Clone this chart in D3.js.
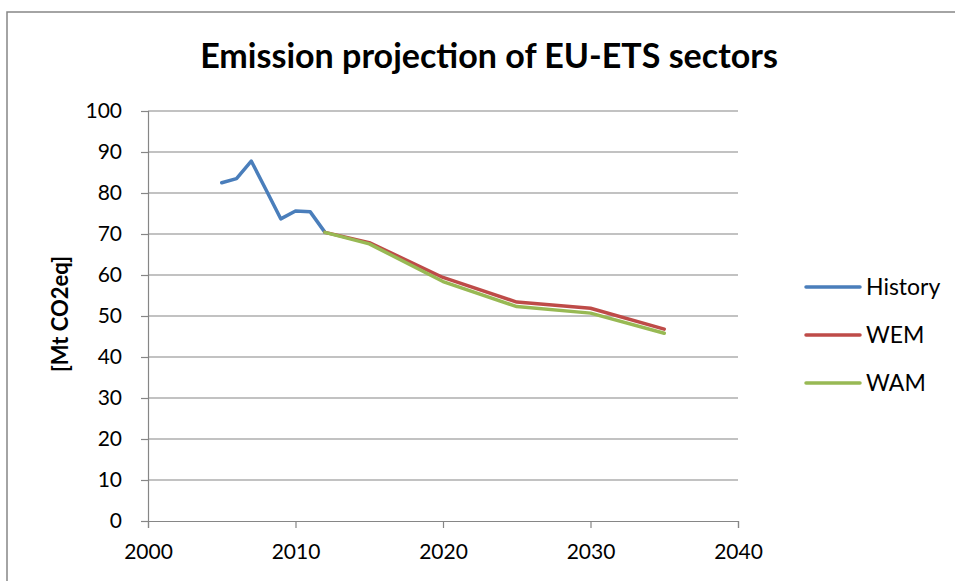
<!DOCTYPE html>
<html>
<head>
<meta charset="utf-8">
<script src="https://cdn.jsdelivr.net/npm/d3@7"></script>
<style>
  html, body { margin: 0; padding: 0; background: #fff; }
  svg { display: block; font-family: Lato, "Open Sans", sans-serif; }
</style>
</head>
<body>
<svg id="chart" width="955" height="581"></svg>
<script>
// Emission data, Mt CO2eq
const historyYears = [2005, 2006, 2007, 2008, 2009, 2010, 2011, 2012];
const historyValues = [82.5, 83.5, 87.8, 80.8, 73.7, 75.6, 75.4, 70.4];

const projectionYears = [2012, 2015, 2020, 2025, 2030, 2035];
const wemValues = [70.4, 67.9, 59.4, 53.4, 51.9, 46.8];
const wamValues = [70.4, 67.6, 58.4, 52.3, 50.7, 45.8];

const xTicks = [2000, 2010, 2020, 2030, 2040];
const yTicks = [0, 10, 20, 30, 40, 50, 60, 70, 80, 90, 100];

const seriesNames = ["History", "WEM", "WAM"];
const seriesColors = ["#4a7ebb", "#be4b48", "#98b954"];

const svg = d3.select("#chart");
const gridColor = "#868686";

// Chart frame
svg.append("rect")
  .attr("x", 7).attr("y", 12)
  .attr("width", 1000).attr("height", 600)
  .attr("fill", "#fff")
  .attr("stroke", gridColor).attr("stroke-width", 1.5);

const x = d3.scaleLinear().domain([2000, 2040]).range([148, 738]);
const y = d3.scaleLinear().domain([0, 100]).range([521, 111]);

// Horizontal gridlines
svg.append("g").selectAll("line")
  .data(yTicks.filter(v => v > 0))
  .join("line")
  .attr("x1", x(2000)).attr("x2", x(2040))
  .attr("y1", d => y(d)).attr("y2", d => y(d))
  .attr("stroke", gridColor).attr("stroke-width", 1.2);

// Y axis
const yAxis = svg.append("g")
  .attr("transform", `translate(${x(2000)},0)`)
  .call(d3.axisLeft(y).tickValues(yTicks).tickSize(7).tickPadding(19).tickFormat(d3.format("d")));
yAxis.select(".domain").attr("stroke", gridColor).attr("stroke-width", 1.2);
yAxis.selectAll(".tick line").attr("stroke", gridColor).attr("stroke-width", 1.2);
yAxis.selectAll(".tick text")
  .attr("fill", "#000").attr("font-size", 21).attr("font-family", "Lato, sans-serif");

// X axis
const xAxis = svg.append("g")
  .attr("transform", `translate(0,${y(0)})`)
  .call(d3.axisBottom(x).tickValues(xTicks).tickSize(7).tickPadding(16).tickFormat(d3.format("d")));
xAxis.select(".domain").attr("stroke", gridColor).attr("stroke-width", 1.2);
xAxis.selectAll(".tick line").attr("stroke", gridColor).attr("stroke-width", 1.2);
xAxis.selectAll(".tick text")
  .attr("fill", "#000").attr("font-size", 21).attr("font-family", "Lato, sans-serif");

// Series lines
const line = d3.line().x(d => x(d[0])).y(d => y(d[1]));
const series = [
  historyYears.map((yr, i) => [yr, historyValues[i]]),
  projectionYears.map((yr, i) => [yr, wemValues[i]]),
  projectionYears.map((yr, i) => [yr, wamValues[i]])
];
svg.append("g").selectAll("path")
  .data(series)
  .join("path")
  .attr("d", line)
  .attr("fill", "none")
  .attr("stroke", (d, i) => seriesColors[i])
  .attr("stroke-width", 3.5)
  .attr("stroke-linejoin", "round")
  .attr("stroke-linecap", "round");

// Title
const title = svg.append("text")
  .attr("x", 489).attr("y", 68)
  .attr("text-anchor", "middle")
  .attr("font-size", 29).attr("font-weight", "bold")
  .attr("font-family", "Lato, sans-serif")
  .text("Emission projection of EU-ETS sectors");
const tw = title.node().getComputedTextLength();
title.attr("font-size", 29 * 578 / tw);

// Y axis label
svg.append("text")
  .attr("transform", "translate(68,314) rotate(-90)")
  .attr("text-anchor", "middle")
  .attr("font-size", 22).attr("font-weight", "bold")
  .attr("font-family", "Lato, sans-serif")
  .text("[Mt CO2eq]");

// Legend
const legend = svg.append("g").selectAll("g")
  .data(seriesNames)
  .join("g")
  .attr("transform", (d, i) => `translate(806,${287 + i * 48})`);
legend.append("line")
  .attr("x1", 0).attr("x2", 54)
  .attr("stroke", (d, i) => seriesColors[i])
  .attr("stroke-width", 3.5)
  .attr("stroke-linecap", "round");
legend.append("text")
  .attr("x", 60).attr("y", 0)
  .attr("dy", "0.35em")
  .attr("font-size", 23)
  .attr("font-family", "Lato, sans-serif")
  .text(d => d);
</script>
</body>
</html>
